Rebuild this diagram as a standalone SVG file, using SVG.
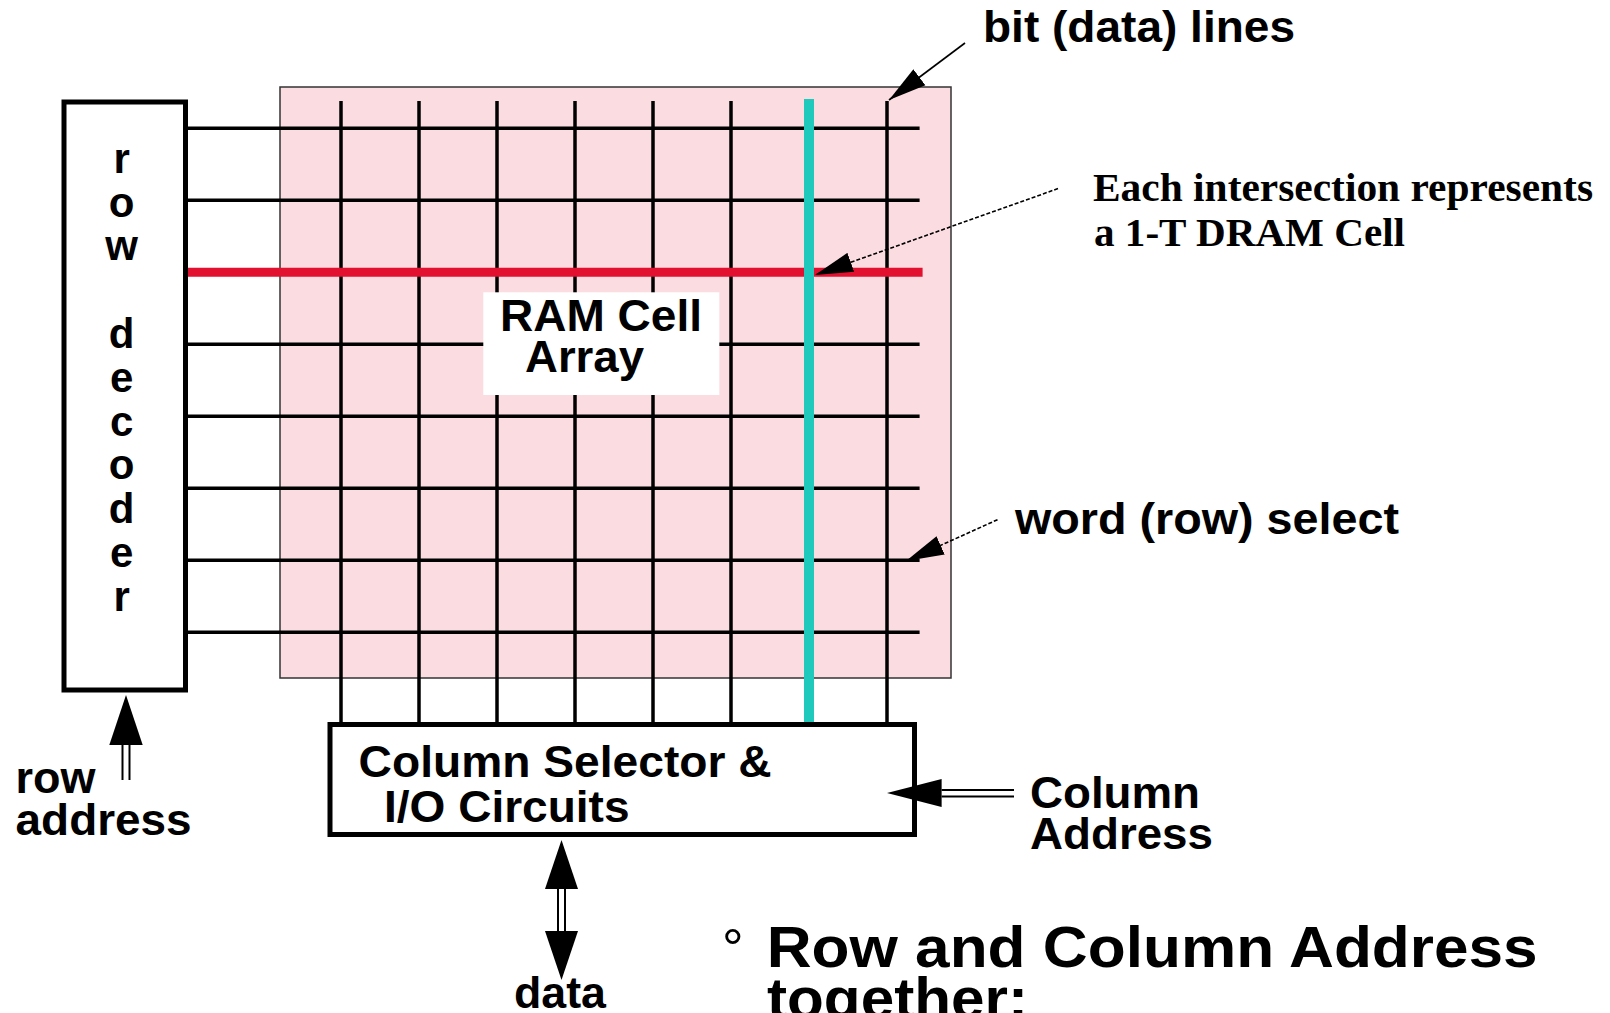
<svg xmlns="http://www.w3.org/2000/svg" width="1610" height="1013" viewBox="0 0 1610 1013">
<style>
.sans{font-family:"Liberation Sans",Arial,sans-serif;font-weight:bold;fill:#000}
.serif{font-family:"Liberation Serif","Times New Roman",serif;font-weight:bold;fill:#000}
.lbl{font-size:44px}
.dec{font-size:42px;text-anchor:middle}
.box{fill:#fff;stroke:#000;stroke-width:5}
.grid{stroke:#000;stroke-width:3.5;fill:none}
.thin{stroke:#000;stroke-width:1.6;fill:none}
.dot{stroke-dasharray:4 2}
.dbl{stroke:#000;stroke-width:2;fill:none}
.head{fill:#000}
</style>
<defs>
<marker id="ah" markerUnits="userSpaceOnUse" viewBox="0 -12 40 24" refX="38" refY="0" markerWidth="40" markerHeight="24" orient="auto">
<path d="M0,-10 L38,0 L0,10 z" fill="#000"/>
</marker>
</defs>
<rect width="1610" height="1013" fill="#fff"/>

<g id="cell-array">
<rect x="280" y="87" width="671" height="591" fill="#fbdde1" stroke="#333" stroke-width="1.5"/>
<g class="grid">
<line x1="185" y1="128.3" x2="919.6" y2="128.3"/>
<line x1="185" y1="200.3" x2="919.6" y2="200.3"/>
<line x1="185" y1="344.3" x2="919.6" y2="344.3"/>
<line x1="185" y1="416.3" x2="919.6" y2="416.3"/>
<line x1="185" y1="488.3" x2="919.6" y2="488.3"/>
<line x1="185" y1="560.3" x2="919.6" y2="560.3"/>
<line x1="185" y1="632.3" x2="919.6" y2="632.3"/>
<line x1="341" y1="101" x2="341" y2="722"/>
<line x1="419" y1="101" x2="419" y2="722"/>
<line x1="497" y1="101" x2="497" y2="722"/>
<line x1="575" y1="101" x2="575" y2="722"/>
<line x1="653" y1="101" x2="653" y2="722"/>
<line x1="731" y1="101" x2="731" y2="722"/>
<line x1="887" y1="101" x2="887" y2="722"/>
</g>
<line id="word-line" x1="185" y1="272.3" x2="922.6" y2="272.3" stroke="#e2112f" stroke-width="9"/>
<line id="bit-line" x1="809" y1="99" x2="809" y2="722" stroke="#1fc9bb" stroke-width="10"/>
<rect x="483.3" y="292.3" width="236" height="102.7" fill="#fff"/>
<text class="sans lbl" x="500" y="331" textLength="202" lengthAdjust="spacingAndGlyphs">RAM Cell</text>
<text class="sans lbl" x="525" y="371.7" textLength="119" lengthAdjust="spacingAndGlyphs">Array</text>
</g>

<g id="row-decoder">
<rect class="box" x="64" y="102" width="121.5" height="588"/>
<text class="sans dec" x="121.7" y="172.8">r</text>
<text class="sans dec" x="121.7" y="216.6">o</text>
<text class="sans dec" x="121.7" y="260.4">w</text>
<text class="sans dec" x="121.7" y="348">d</text>
<text class="sans dec" x="121.7" y="391.8">e</text>
<text class="sans dec" x="121.7" y="435.6">c</text>
<text class="sans dec" x="121.7" y="479.4">o</text>
<text class="sans dec" x="121.7" y="523.2">d</text>
<text class="sans dec" x="121.7" y="567">e</text>
<text class="sans dec" x="121.7" y="610.8">r</text>
</g>

<g id="column-selector">
<rect class="box" x="330" y="724.5" width="584.5" height="110"/>
<text class="sans lbl" x="358.6" y="777" textLength="413" lengthAdjust="spacingAndGlyphs">Column Selector &amp;</text>
<text class="sans lbl" x="384" y="821.5" textLength="245.5" lengthAdjust="spacingAndGlyphs">I/O Circuits</text>
</g>

<g id="connectors">
<line class="thin" x1="965" y1="43" x2="889" y2="100" marker-end="url(#ah)"/>
<line class="thin dot" x1="1058" y1="188.6" x2="815" y2="275" marker-end="url(#ah)"/>
<line class="thin dot" x1="997.5" y1="519.7" x2="906" y2="561" marker-end="url(#ah)"/>
<g id="row-address-arrow">
<polygon class="head" points="126,695 109.3,745 142.7,745"/>
<line class="dbl" x1="122.5" y1="745" x2="122.5" y2="780"/>
<line class="dbl" x1="129.5" y1="745" x2="129.5" y2="780"/>
</g>
<g id="data-arrow">
<polygon class="head" points="561.5,840 545,889 578,889"/>
<polygon class="head" points="561.5,980 545,931 578,931"/>
<line class="dbl" x1="558" y1="889" x2="558" y2="931"/>
<line class="dbl" x1="565" y1="889" x2="565" y2="931"/>
</g>
<g id="column-address-arrow">
<polygon class="head" points="887,793 941.6,779 941.6,807"/>
<line class="dbl" x1="941.6" y1="790" x2="1014" y2="790"/>
<line class="dbl" x1="941.6" y1="796.5" x2="1014" y2="796.5"/>
</g>
</g>

<g id="labels">
<text class="sans lbl" x="983" y="42" textLength="312" lengthAdjust="spacingAndGlyphs">bit (data) lines</text>
<text class="serif" font-size="41" x="1093" y="201" textLength="500" lengthAdjust="spacingAndGlyphs">Each intersection represents</text>
<text class="serif" font-size="41" x="1094" y="246" textLength="311" lengthAdjust="spacingAndGlyphs">a 1-T DRAM Cell</text>
<text class="sans lbl" x="1015" y="534" textLength="384" lengthAdjust="spacingAndGlyphs">word (row) select</text>
<text class="sans lbl" x="15.6" y="793" textLength="80" lengthAdjust="spacingAndGlyphs">row</text>
<text class="sans lbl" x="15.6" y="835" textLength="176" lengthAdjust="spacingAndGlyphs">address</text>
<text class="sans lbl" x="1030" y="808" textLength="170" lengthAdjust="spacingAndGlyphs">Column</text>
<text class="sans lbl" x="1030" y="849" textLength="183" lengthAdjust="spacingAndGlyphs">Address</text>
<text class="sans lbl" x="514" y="1008" textLength="92" lengthAdjust="spacingAndGlyphs">data</text>
<text font-family="Liberation Sans,Arial,sans-serif" font-size="54" x="722" y="967">°</text>
<text class="sans" font-size="57" x="766.7" y="967" textLength="771" lengthAdjust="spacingAndGlyphs">Row and Column Address</text>
<text class="sans" font-size="57" x="767" y="1018" textLength="261" lengthAdjust="spacingAndGlyphs">together:</text>
</g>
</svg>
